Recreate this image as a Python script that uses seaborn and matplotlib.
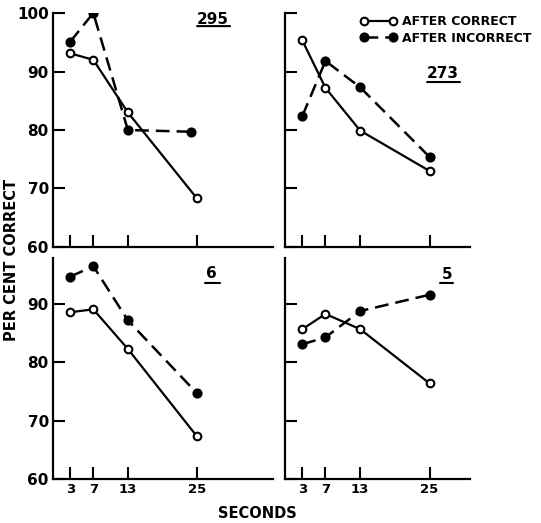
import matplotlib
matplotlib.use("Agg")
import matplotlib.pyplot as plt
from matplotlib.lines import Line2D
import seaborn as sns
import pandas as pd

sns.set_style("ticks")
plt.rcParams["font.family"] = ["DejaVu Sans"]
plt.rcParams["font.weight"] = "bold"
plt.rcParams["text.color"] = "black"
plt.rcParams["xtick.color"] = "black"
plt.rcParams["ytick.color"] = "black"
plt.rcParams["axes.labelcolor"] = "black"

seconds = [3, 7, 13, 25]
panel_names = ["295", "273", "6", "5"]

# After correct (open circles, solid line)
correct_295 = [93.1, 92.0, 83.0, 68.3]
correct_273 = [95.3, 87.2, 79.9, 73.0]
correct_6 = [88.6, 89.1, 82.3, 67.3]
correct_5 = [85.7, 88.3, 85.7, 76.4]

# After incorrect (filled circles, dashed line)
incorrect_295 = [95.1, 100.0, 80.0, 79.7]
incorrect_273 = [82.4, 91.8, 87.3, 75.4]
incorrect_6 = [94.7, 96.5, 87.2, 74.7]
incorrect_5 = [83.1, 84.3, 88.8, 91.6]

# x position of the last "after incorrect" point for 295 as drawn
incorrect_295_x = [3, 7, 13, 24]

xtick_labels = ["3", "7", "13", "25"]
ytick_values = [60, 70, 80, 90, 100]

W, H = 541, 523
fig = plt.figure(figsize=(W / 100, H / 100), dpi=100)


def ax_at(x0, x1, y0, y1):
    return fig.add_axes([x0 / W, 1 - y1 / H, (x1 - x0) / W, (y1 - y0) / H])


axes = [
    ax_at(53, 273, 13, 247),
    ax_at(285, 470, 13, 247),
    ax_at(53, 273, 258, 479),
    ax_at(285, 470, 258, 479),
]
xlims = [(0, 38.2), (0, 32), (0, 38.2), (0, 32)]
ylims = [(60, 100), (60, 100), (60, 97.9), (60, 97.9)]

corr = [correct_295, correct_273, correct_6, correct_5]
inc = [incorrect_295, incorrect_273, incorrect_6, incorrect_5]
inc_x = [incorrect_295_x, seconds, seconds, seconds]

solid_style = dict(color="black", linewidth=1.6, marker="o", markersize=5.5,
                   markerfacecolor="white", markeredgecolor="black",
                   markeredgewidth=1.5, linestyle="-")
dashed_style = dict(color="black", linewidth=1.8, marker="o", markersize=5.8,
                    markerfacecolor="black", markeredgecolor="black",
                    markeredgewidth=1.5, linestyle=(0, (5.5, 2.8)))

label_pos = [(0.727, 0.972), (0.854, 0.742), (0.718, 0.930), (0.876, 0.926)]
underline = [(0.655, 0.805, 0.944), (0.768, 0.946, 0.705),
             (0.691, 0.759, 0.887), (0.838, 0.908, 0.887)]

for i, ax in enumerate(axes):
    dfc = pd.DataFrame({"x": seconds, "y": corr[i]})
    dfi = pd.DataFrame({"x": inc_x[i], "y": inc[i]})
    sns.lineplot(data=dfc, x="x", y="y", ax=ax, legend=False, **solid_style)
    sns.lineplot(data=dfi, x="x", y="y", ax=ax, legend=False, **dashed_style)
    ax.set_xlim(*xlims[i])
    ax.set_ylim(*ylims[i])
    ax.set_xlabel("")
    ax.set_ylabel("")
    sns.despine(ax=ax)
    for s in ["left", "bottom"]:
        ax.spines[s].set_linewidth(1.6)
        ax.spines[s].set_color("black")
    ax.set_xticks(seconds)
    yt = [v for v in ytick_values if v <= ylims[i][1]]
    ax.set_yticks(yt)
    ax.tick_params(direction="in", length=8.5, width=1.5, color="black",
                   labelcolor="black", pad=3)
    if i >= 2:
        ax.set_xticklabels(xtick_labels, fontsize=9.5, fontweight="bold")
    else:
        ax.set_xticklabels([])
    if i in (0, 2):
        ax.set_yticklabels([str(v) for v in yt], fontsize=11, fontweight="bold")
    else:
        ax.set_yticklabels([])
    ax.set_facecolor("white")
    lx, ly = label_pos[i]
    ax.text(lx, ly, panel_names[i], transform=ax.transAxes, ha="center",
            va="center", fontsize=11, fontweight="bold", color="black")
    ux0, ux1, uy = underline[i]
    ax.annotate("", xy=(ux1, uy), xytext=(ux0, uy), xycoords="axes fraction",
                arrowprops=dict(arrowstyle="-", lw=1.5, color="black",
                                shrinkA=0, shrinkB=0))

handles = [Line2D([], [], **solid_style), Line2D([], [], **dashed_style)]
fig.legend(handles, ["AFTER CORRECT", "AFTER INCORRECT"], loc="upper left",
           bbox_to_anchor=(360 / W, 1 - 15 / H), frameon=False, numpoints=2,
           handlelength=2.9, handletextpad=0.45, labelspacing=0.3,
           prop=dict(size=9, weight="bold"), borderpad=0, borderaxespad=0,
           labelcolor="black")

fig.text(12 / W, 1 - 260 / H, "PER CENT CORRECT", rotation=90, ha="center",
         va="center", fontsize=10.5, fontweight="bold", color="black")
fig.text(257 / W, 1 - 513 / H, "SECONDS", ha="center", va="center",
         fontsize=10.5, fontweight="bold", color="black")

fig.savefig("out.png", dpi=100, facecolor="white")
